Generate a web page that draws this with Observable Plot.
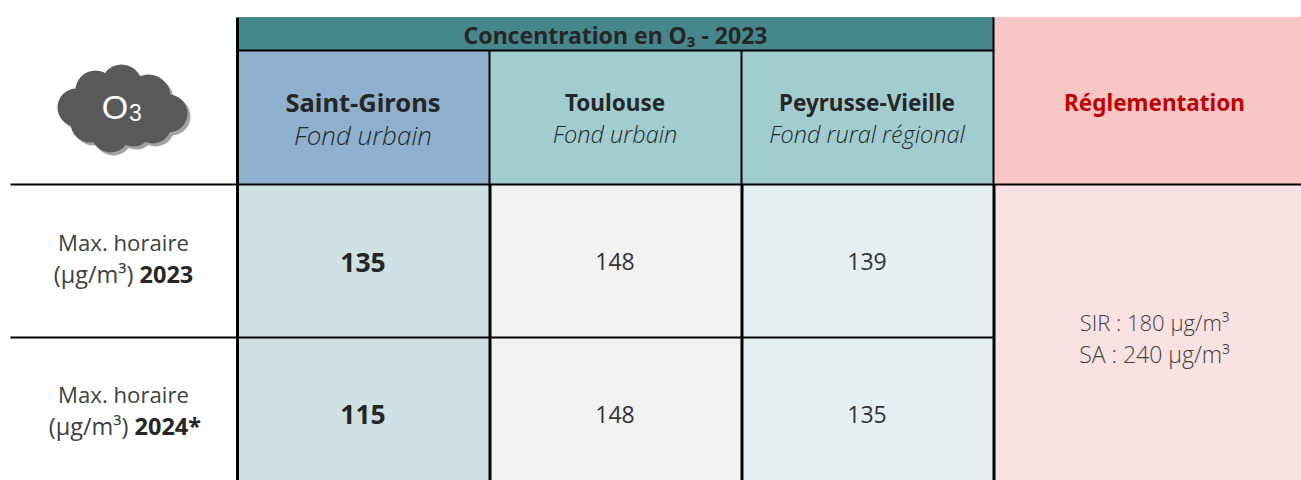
<!DOCTYPE html>
<html lang="fr">
<head>
<meta charset="utf-8">
<script src="https://cdn.jsdelivr.net/npm/d3@7"></script>
<script src="https://cdn.jsdelivr.net/npm/@observablehq/plot@0.6"></script>
<style>
html,body{margin:0;padding:0;background:#fff}
svg{display:block}
</style>
</head>
<body>
<div id="chart"></div>
<script>
// Data
const stations = ["Saint-Girons", "Toulouse", "Peyrusse-Vieille"];
const stationTypes = ["Fond urbain", "Fond urbain", "Fond rural régional"];
const rowLines = ["Max. horaire", "Max. horaire"];
const rowUnits = ["(µg/m³) ", "(µg/m³) "];
const rowYears = ["2023", "2024*"];
const values2023 = [135, 148, 139];
const values2024 = [115, 148, 135];
const headerTitle = "Concentration en O₃ - 2023";
const regTitle = "Réglementation";
const regLines = ["SIR : 180 µg/m³", "SA : 240 µg/m³"];

// Layout (pixel grid of the table)
const W = 1301, H = 480;
const colEdges = [238, 490, 742, 994, 1301];
const ink = "#262626";
const colMid = i => (colEdges[i] + colEdges[i + 1]) / 2 - 1.5;

const bg = [
  {x1: 238, x2: 994, y1: 17, y2: 50, c: "#46878E"},
  {x1: 238, x2: 490, y1: 50, y2: 184, c: "#8FB1CF"},
  {x1: 490, x2: 994, y1: 50, y2: 184, c: "#A2CDD0"},
  {x1: 994, x2: 1301, y1: 17, y2: 184, c: "#F8C6C5"},
  {x1: 238, x2: 490, y1: 184, y2: 480, c: "#CEE2E4"},
  {x1: 490, x2: 742, y1: 184, y2: 480, c: "#F2F2F2"},
  {x1: 742, x2: 994, y1: 184, y2: 480, c: "#E6EFF1"},
  {x1: 994, x2: 1301, y1: 184, y2: 480, c: "#FAE1E2"}
];

const rules = [
  {x1: 237, x2: 237, y1: 17, y2: 480, w: 3},
  {x1: 489, x2: 489, y1: 50, y2: 184, w: 2},
  {x1: 741, x2: 741, y1: 50, y2: 184, w: 2},
  {x1: 993, x2: 993, y1: 17, y2: 184, w: 2},
  {x1: 489.5, x2: 489.5, y1: 184, y2: 480, w: 3},
  {x1: 741.5, x2: 741.5, y1: 184, y2: 480, w: 3},
  {x1: 993.5, x2: 993.5, y1: 184, y2: 480, w: 3},
  {x1: 238, x2: 994, y1: 50, y2: 50, w: 2},
  {x1: 10, x2: 1301, y1: 184, y2: 184, w: 2},
  {x1: 10, x2: 994, y1: 337, y2: 337, w: 2}
];

const cloud = [
  [76, 107, 19], [95, 90, 20], [121, 84, 20], [148, 96, 22], [168, 113, 19],
  [152, 124, 19], [133, 128, 18], [110, 133, 19], [90, 122, 20], [122, 108, 28], [100, 108, 26], [145, 110, 24]
].map(([x, y, r]) => ({x, y, r}));

const font = "'Noto Sans','Open Sans',sans-serif";
const light = "'Open Sans','Noto Sans',sans-serif";

const text = (rows, o) => Plot.text(rows, {x: "x", y: "y", text: "t", fill: ink, fontFamily: font, lineAnchor: "middle", ...o});

const names = stations.map((t, i) => ({t, x: colMid(i), y: 103}));
const types = stationTypes.map((t, i) => ({t, x: colMid(i), y: i === 0 ? 136.5 : 135}));
const vals = [values2023, values2024].flatMap((vs, r) => vs.map((t, i) => ({t: String(t), x: colMid(i), y: r === 0 ? (i === 0 ? 263 : 262) : (i === 0 ? 415 : 415), main: i === 0})));
const rowTitle = rowLines.map((t, r) => ({t, x: 123, y: r === 0 ? 243 : 395}));
const unitX = [139, 134];
const rowUnit = rowUnits.map((t, r) => ({t, x: unitX[r], y: r === 0 ? 275 : 427}));
const rowYear = rowYears.map((t, r) => ({t, x: unitX[r], y: r === 0 ? 275 : 427}));

const plot = Plot.plot({
  width: W, height: H,
  margin: 0,
  x: {type: "linear", domain: [0, W], range: [0, W], axis: null},
  y: {type: "linear", domain: [0, H], range: [0, H], axis: null},
  r: {type: "identity"},
  style: {background: "#fff"},
  marks: [
    Plot.rect(bg, {x1: "x1", x2: "x2", y1: "y1", y2: "y2", fill: d => d.c}),
    Plot.dot(cloud, {x: d => d.x + 3, y: d => d.y + 3, r: "r", fill: "#A3A3A3"}),
    Plot.dot(cloud, {x: "x", y: "y", r: "r", fill: "#595959"}),
    Plot.text(["O"], {x: [114.5], y: [108], fontFamily: "'Liberation Sans',sans-serif", fontSize: 34, fill: "#fff", lineAnchor: "middle"}),
    Plot.text(["3"], {x: [135], y: [113], fontFamily: "'Liberation Sans',sans-serif", fontSize: 23, fill: "#fff", lineAnchor: "middle"}),
    Plot.link(rules, {x1: "x1", x2: "x2", y1: "y1", y2: "y2", stroke: "#000", strokeWidth: "w", curve: "linear"}),
    text([{t: headerTitle, x: 615, y: 36.5}], {fontWeight: 700, fontSize: 23}),
    text([names[0]], {fontWeight: 700, fontSize: 25.5}),
    text(names.slice(1), {fontWeight: 700, fontSize: 22.5}),
    text([types[0]], {fontStyle: "italic", fontFamily: light, fontWeight: 300, fontSize: 26}),
    text(types.slice(1), {fontStyle: "italic", fontFamily: light, fontWeight: 300, fontSize: 23.5}),
    text([{t: regTitle, x: 1154, y: 103}], {fontWeight: 700, fontSize: 22.5, fill: "#C00000"}),
    text(vals.filter(d => d.main), {fontWeight: 700, fontSize: 26.5}),
    text(vals.filter(d => !d.main), {fontFamily: light, fontSize: 23, fill: "#333"}),
    text(rowTitle, {fontFamily: light, fontSize: 22.2, fill: "#404040"}),
    text(rowUnit, {fontFamily: light, fontSize: 23.5, fill: "#404040", textAnchor: "end"}),
    text(rowYear, {fontWeight: 700, fontSize: 23.5, textAnchor: "start"}),
    text([{t: regLines[0], x: 1154, y: 323}], {fontFamily: light, fontWeight: 300, fontSize: 22, fill: "#404040"}),
    text([{t: regLines[1], x: 1154, y: 355}], {fontFamily: light, fontWeight: 300, fontSize: 23, fill: "#404040"})
  ]
});
document.getElementById("chart").append(plot);
</script>
</body>
</html>
